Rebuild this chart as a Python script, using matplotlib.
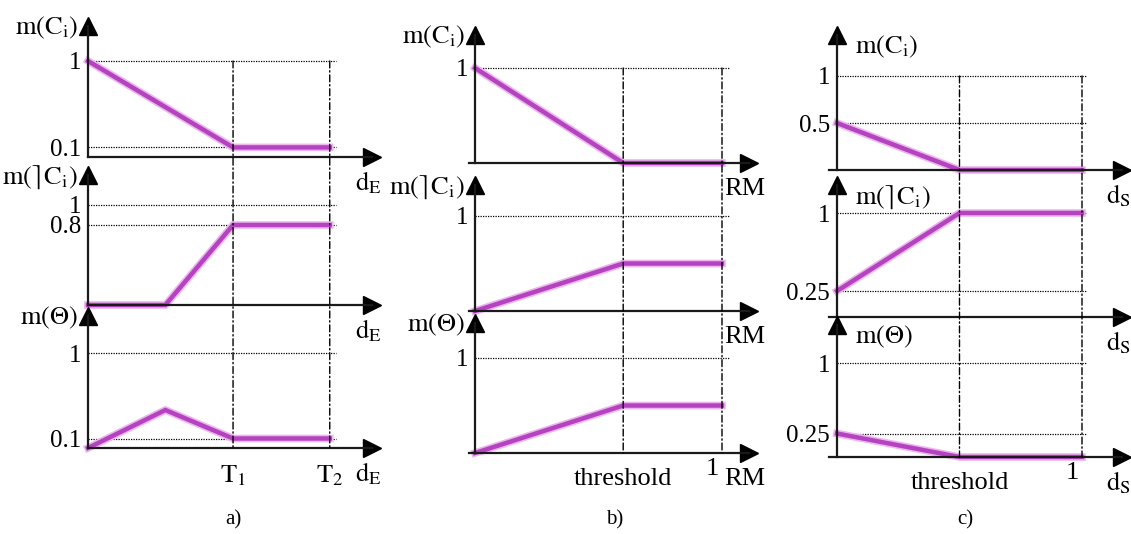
import matplotlib
matplotlib.use("Agg")
import matplotlib.pyplot as plt
from matplotlib.patches import ConnectionPatch
from matplotlib.transforms import ScaledTranslation
import matplotlib.patheffects as pe

plt.rcParams['font.family'] = ['Liberation Serif', 'DejaVu Serif']
plt.rcParams['mathtext.fontset'] = 'stix'
plt.rcParams['font.size'] = 18

# ---- data ----
# panel a) : d_E axis, T1 and T2 thresholds
T1, T2 = 1.5, 2.5
knee_a = 0.8
a_x_ci = [0, T1, T2]
a_y_ci = [1, 0.1, 0.1]
a_x_nci = [0, knee_a, T1, T2]
a_y_nci = [0, 0, 0.8, 0.8]
a_x_th = [0, knee_a, T1, T2]
a_y_th = [0, 0.4, 0.1, 0.1]
a_yticks = [[1, 0.1], [1, 0.8], [1, 0.1]]
a_ylabels = [["1", "0.1"], ["1", "0.8"], ["1", "0.1"]]
a_xticks = [T1, T2]
a_xticklabels = [r'$\mathrm{T_1}$', r'$\mathrm{T_2}$']

# panel b) : RM axis
thr_b = 0.6
b_x = [0, thr_b, 1]
b_y_ci = [1, 0, 0]
b_y_nci = [0, 0.5, 0.5]
b_y_th = [0, 0.5, 0.5]
b_yticks = [[1], [1], [1]]
b_ylabels = [["1"], ["1"], ["1"]]
b_xticks = [thr_b, 1]
b_xticklabels = ["threshold", "1"]

# panel c) : d_S axis
thr_c = 0.5
c_x = [0, thr_c, 1]
c_y_ci = [0.5, 0, 0]
c_y_nci = [0.25, 1, 1]
c_y_th = [0.25, 0, 0]
c_yticks = [[1, 0.5], [1, 0.25], [1, 0.25]]
c_ylabels = [["1", "0.5"], ["1", "0.25"], ["1", "0.25"]]
c_xticks = [thr_c, 1]
c_xticklabels = ["threshold", "1"]

row_names = [r'$\mathrm{m(C_i)}$', r'$\mathrm{m(}\rceil\mathrm{C_i)}$', r'$\mathrm{m(\Theta)}$']

# ---- layout (pixels) ----
W, H = 1131, 534
fig = plt.figure(figsize=(W / 100, H / 100), dpi=100)

LINE = '#b443bf'
HALO = '#efb4ef'

panels = [
    dict(xo=88, xu=96.7, xl=88, xt=380, zero=[157, 305, 448], one=[61, 205, 353], tip=[18, 167, 308],
         xs=[a_x_ci, a_x_nci, a_x_th], ys=[a_y_ci, a_y_nci, a_y_th],
         yt=a_yticks, yl=a_ylabels, xt_b=a_xticks, xtl_b=a_xticklabels,
         vlines=[T1, T2], gend=2.56, xname=r'$\mathrm{d_E}$', side='left', tag='a)', tagx=233),
    dict(xo=475, xu=247, xl=469, xt=757, zero=[163, 311, 453], one=[68, 216, 358], tip=[27, 177, 315],
         xs=[b_x, b_x, b_x], ys=[b_y_ci, b_y_nci, b_y_th],
         yt=b_yticks, yl=b_ylabels, xt_b=b_xticks, xtl_b=b_xticklabels,
         vlines=[thr_b, 1], gend=1.03, xname='RM', side='left', tag='b)', tagx=615),
    dict(xo=837, xu=245, xl=829, xt=1130, zero=[170, 317, 457], one=[76, 213, 363], tip=[27, 177, 317],
         xs=[c_x, c_x, c_x], ys=[c_y_ci, c_y_nci, c_y_th],
         yt=c_yticks, yl=c_ylabels, xt_b=c_xticks, xtl_b=c_xticklabels,
         vlines=[thr_c, 1], gend=1.02, xname=r'$\mathrm{d_S}$', side='right', tag='c)', tagx=965),
]

for p in panels:
    axes = []
    for r in range(3):
        zero, one, tip = p['zero'][r], p['one'][r], p['tip'][r]
        yu = zero - one
        top = tip + 8
        right = p['xt'] - 8
        ax = fig.add_axes([p['xl'] / W, 1 - zero / H, (right - p['xl']) / W, (zero - top) / H])
        ax.set_xlim((p['xl'] - p['xo']) / p['xu'], (right - p['xo']) / p['xu'])
        ax.set_ylim(0, (zero - top) / yu)
        ax.patch.set_alpha(0)
        for s in ['top', 'right']:
            ax.spines[s].set_visible(False)
        ax.spines['left'].set_position(('data', 0))
        for s in ['left', 'bottom']:
            ax.spines[s].set_linewidth(1.6)
            ax.spines[s].set_color('#1a1a1a')
        # arrow heads
        ax.plot(0, 1, '^', color='k', ms=13, transform=ax.get_xaxis_transform(), clip_on=False)
        ax.plot(1, 0, '>', color='k', ms=13, transform=ax.get_yaxis_transform(), clip_on=False)

        ax.hlines(p['yt'][r], 0, p['gend'], colors='k', linestyles=(0, (1, 1)), lw=0.9)
        ax.plot(p['xs'][r], p['ys'][r], color=LINE, lw=3.2, clip_on=False, solid_joinstyle='miter',
                path_effects=[pe.Stroke(linewidth=5.5, foreground=HALO), pe.Normal()])

        ax.set_yticks(p['yt'][r], p['yl'][r])
        ax.tick_params(axis='y', length=0, pad=5, labelsize=18)
        if r == 2:
            ax.set_xticks(p['xt_b'], p['xtl_b'])
            ax.tick_params(axis='x', length=0, pad=11, labelsize=19)
            if p['xtl_b'][-1] == "1":
                lab = ax.get_xticklabels()[-1]
                lab.set_transform(lab.get_transform() + ScaledTranslation(-0.10, 0.10, fig.dpi_scale_trans))
        else:
            ax.set_xticks([])

        if p['side'] == 'left':
            ax.annotate(row_names[r], xy=(0, 1), xycoords=ax.get_xaxis_transform(), xytext=(-10, -2),
                        textcoords='offset pixels', ha='right', va='center', fontsize=19)
        else:
            ax.annotate(row_names[r], xy=(0, 1), xycoords=ax.get_xaxis_transform(), xytext=(18, -12),
                        textcoords='offset pixels', ha='left', va='center', fontsize=19)
        ax.annotate(p['xname'], xy=(1, 0), xycoords=ax.get_yaxis_transform(), xytext=(-4, -26),
                    textcoords='offset pixels', ha='center', va='center', fontsize=19)
        axes.append(ax)

    for xv in p['vlines']:
        con = ConnectionPatch(xyA=(xv, 1), coordsA=axes[0].transData, xyB=(xv, 0), coordsB=axes[2].transData,
                              linestyle=(0, (5, 2, 1, 2)), lw=1.0, color='k')
        fig.add_artist(con)

    fig.text(p['tagx'] / W, 1 - 520 / H, p['tag'], ha='center', va='center', fontsize=15)

fig.savefig('out.png', dpi=100)
